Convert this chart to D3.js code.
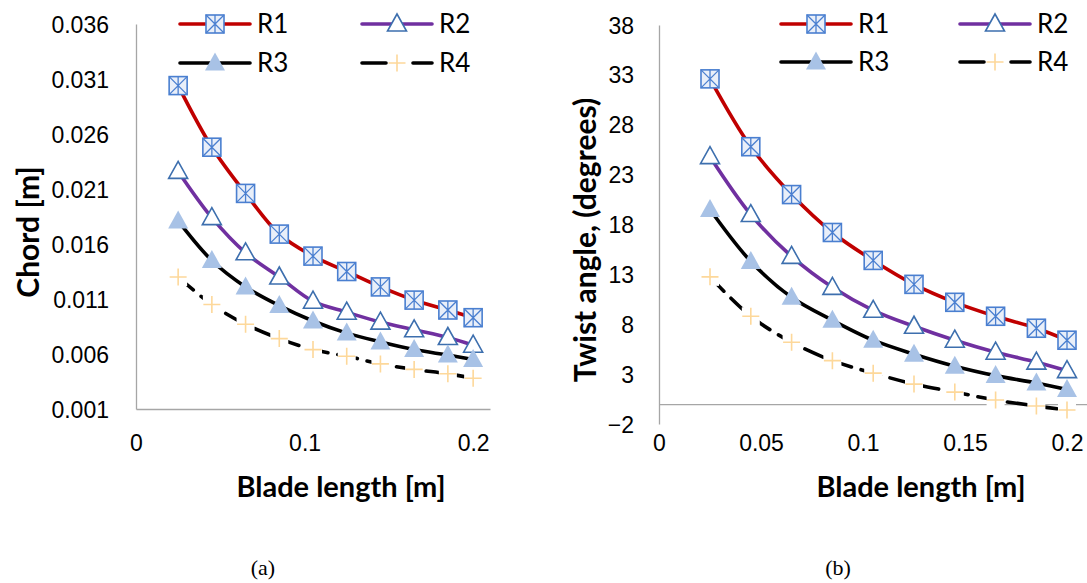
<!DOCTYPE html>
<html>
<head>
<meta charset="utf-8">
<script src="https://cdn.jsdelivr.net/npm/d3@7"></script>
<style>
  html, body { margin: 0; padding: 0; background: #fff; }
  svg { display: block; font-family: Lato, "Open Sans", sans-serif; }
</style>
</head>
<body>
<svg id="chart" width="1087" height="583"></svg>
<script>
// blade stations [m]
const bladeR = [0.025, 0.045, 0.065, 0.085, 0.105, 0.125, 0.145, 0.165, 0.185, 0.2];

// chord [m]
const chordR1 = [0.0304, 0.0248, 0.0206, 0.0169, 0.0149, 0.0135, 0.0121, 0.0109, 0.0100, 0.0093];
const chordR2 = [0.0226, 0.0184, 0.0152, 0.0130, 0.0108, 0.0098, 0.0089, 0.0082, 0.0075, 0.0068];
const chordR3 = [0.0181, 0.0145, 0.0121, 0.0104, 0.0090, 0.0079, 0.0071, 0.0064, 0.0059, 0.0055];
const chordR4 = [0.0130, 0.0105, 0.0087, 0.0074, 0.0064, 0.0058, 0.0051, 0.0046, 0.0042, 0.0038];

// twist angle [deg]
const twistR1 = [32.6, 25.8, 21.0, 17.2, 14.4, 12.0, 10.2, 8.8, 7.6, 6.4];
const twistR2 = [24.8, 19.0, 14.8, 11.7, 9.4, 7.8, 6.4, 5.2, 4.2, 3.35];
const twistR3 = [19.5, 14.3, 10.7, 8.4, 6.4, 5.0, 3.8, 2.85, 2.1, 1.45];
const twistR4 = [12.75, 8.8, 6.2, 4.35, 3.1, 2.0, 1.2, 0.4, -0.2, -0.6];

const seriesNames = ["R1", "R2", "R3", "R4"];
const chordTicks = [0.001, 0.006, 0.011, 0.016, 0.021, 0.026, 0.031, 0.036];
const twistTicks = [-2, 3, 8, 13, 18, 23, 28, 33, 38];
const xTicksA = [0, 0.1, 0.2];
const xTicksB = [0, 0.05, 0.1, 0.15, 0.2];

const svg = d3.select("#chart");

const styles = {
  R1: { line: "#C00000", dash: null },
  R2: { line: "#7030A0", dash: null },
  R3: { line: "#000000", dash: null },
  R4: { line: "#000000", dash: "20,10" }
};

function drawMarker(g, name) {
  if (name === "R1") {
    const s = 9;
    g.append("rect").attr("x", -s).attr("y", -s).attr("width", 2 * s).attr("height", 2 * s)
      .attr("fill", "#e9eff9").attr("stroke", "#4a7fd0").attr("stroke-width", 1.6);
    g.append("path").attr("d", `M${-s},${-s}L${s},${s}M${s},${-s}L${-s},${s}M0,${-s}L0,${s}`)
      .attr("stroke", "#4a7fd0").attr("stroke-width", 1.3).attr("fill", "none");
  } else if (name === "R2") {
    g.append("path").attr("d", "M0,-10L9.5,7L-9.5,7Z")
      .attr("fill", "#fff").attr("stroke", "#3d6fae").attr("stroke-width", 1.6);
  } else if (name === "R3") {
    g.append("path").attr("d", "M0,-10.5L10,7.5L-10,7.5Z").attr("fill", "#a8c2e6");
  } else {
    g.append("rect").attr("x", -9).attr("y", -9).attr("width", 18).attr("height", 18).attr("fill", "#fff");
    g.append("path").attr("d", "M-8.5,0L8.5,0M0,-8.5L0,8.5")
      .attr("stroke", "#fdd89a").attr("stroke-width", 1.6);
  }
}

function drawChart(cfg) {
  const x = d3.scaleLinear().domain([0, 0.21]).range(cfg.xRange);
  const y = d3.scaleLinear().domain(cfg.yDomain).range(cfg.yRange);
  const g = svg.append("g");

  // axes (no tick marks, grey lines)
  const xAxis = d3.axisBottom(x).tickValues(cfg.xTicks).tickSize(0).tickFormat(d3.format("~g"));
  const yAxis = d3.axisLeft(y).tickValues(cfg.yTicks).tickSize(0).tickFormat(cfg.yFormat);

  const ya = g.append("g").attr("transform", `translate(${cfg.xRange[0]},0)`).call(yAxis);
  ya.select(".domain").attr("stroke", "#a6a6a6").attr("stroke-width", 1.3);
  ya.selectAll("text").attr("x", cfg.yLabelX - cfg.xRange[0]).attr("dy", "0.35em")
    .style("font-size", "23px").attr("fill", "#000");

  const xa = g.append("g").attr("transform", `translate(0,${y(cfg.xCross)})`).call(xAxis);
  xa.select(".domain").attr("stroke", "#a6a6a6").attr("stroke-width", 1.3);
  xa.selectAll("text").attr("y", cfg.xLabelY - y(cfg.xCross)).attr("dy", "0.35em")
    .style("font-size", "23px").attr("fill", "#000");

  // lines
  const line = d3.line().x(d => x(d[0])).y(d => y(d[1])).curve(d3.curveCatmullRom.alpha(0.5));
  seriesNames.forEach((name, i) => {
    const pts = bladeR.map((r, j) => [r, cfg.series[i][j]]);
    g.append("path").datum(pts).attr("d", line)
      .attr("fill", "none").attr("stroke", styles[name].line).attr("stroke-width", 3.6)
      .attr("stroke-linecap", "round")
      .attr("stroke-dasharray", styles[name].dash);
  });
  // markers
  seriesNames.forEach((name, i) => {
    bladeR.forEach((r, j) => {
      const m = g.append("g").attr("transform", `translate(${x(r)},${y(cfg.series[i][j])})`);
      drawMarker(m, name);
    });
  });

  // legend
  cfg.legend.forEach((p, i) => {
    const name = seriesNames[i];
    const lg = g.append("g").attr("transform", `translate(${p[0]},${p[1]})`);
    lg.append("line").attr("x1", 0).attr("x2", 70).attr("y1", 0).attr("y2", 0)
      .attr("stroke", styles[name].line).attr("stroke-width", 3.6).attr("stroke-linecap", "round")
      .attr("stroke-dasharray", name === "R4" ? "24,27,25" : null);
    drawMarker(lg.append("g").attr("transform", "translate(35,0)"), name);
    lg.append("text").attr("x", 77).attr("y", 0).attr("dy", "0.36em")
      .style("font-size", "26px").text(name);
  });

  // titles
  g.append("text").attr("x", cfg.xTitle[0]).attr("y", cfg.xTitle[1])
    .attr("text-anchor", "middle").style("font-size", "29px").style("font-weight", "bold")
    .text("Blade length [m]");
  g.append("text")
    .attr("transform", `translate(${cfg.yTitle[0]},${cfg.yTitle[1]}) rotate(-90)`)
    .attr("text-anchor", "middle").attr("dy", "0.35em")
    .style("font-size", "30px").style("font-weight", "bold")
    .text(cfg.yTitleText);
  g.append("text").attr("x", cfg.caption[0]).attr("y", cfg.caption[1])
    .attr("text-anchor", "middle").style("font-family", "'Liberation Serif', serif")
    .style("font-size", "22px").text(cfg.captionText);
}

drawChart({
  xRange: [136, 490],
  yDomain: [0.001, 0.036],
  yRange: [409, 24],
  xCross: 0.001,
  xTicks: xTicksA,
  yTicks: chordTicks,
  yFormat: d3.format(".3f"),
  yLabelX: 109,
  xLabelY: 443,
  series: [chordR1, chordR2, chordR3, chordR4],
  legend: [[180, 24], [362, 24], [180, 63], [362, 63]],
  xTitle: [341, 497],
  yTitle: [28, 232],
  yTitleText: "Chord [m]",
  caption: [263, 575],
  captionText: "(a)"
});

drawChart({
  xRange: [659, 1087.4],
  yDomain: [-2, 38],
  yRange: [424, 25],
  xCross: 0,
  xTicks: xTicksB,
  yTicks: twistTicks,
  yFormat: d3.format("d"),
  yLabelX: 634,
  xLabelY: 443,
  series: [twistR1, twistR2, twistR3, twistR4],
  legend: [[781, 24], [960, 24], [781, 62], [960, 62]],
  xTitle: [921, 497],
  yTitle: [585, 240],
  yTitleText: "Twist angle, (degrees)",
  caption: [838, 575],
  captionText: "(b)"
});
</script>
</body>
</html>
